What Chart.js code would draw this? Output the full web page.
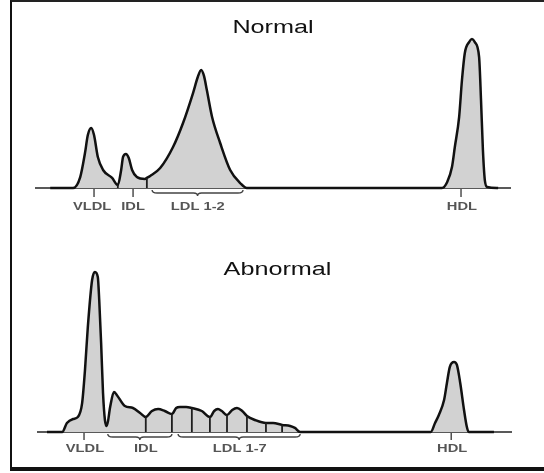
<!DOCTYPE html>
<html>
<head>
<meta charset="utf-8">
<script src="https://cdn.jsdelivr.net/npm/chart.js@4.4.1/dist/chart.umd.min.js"></script>
<style>
    body { margin: 0; background: #fff; }
    #frame {
        position: absolute; left: 10px; top: 0; width: 534px; height: 465px;
        border-top: 2px solid #222; border-left: 2px solid #111; border-bottom: 4px solid #111;
    }
    .panel { position: absolute; left: 0; }
</style>
</head>
<body>
<div id="frame"></div>
<canvas id="normalChart" class="panel" width="544" height="236" style="top:0"></canvas>
<canvas id="abnormalChart" class="panel" width="544" height="237" style="top:236px"></canvas>
<script>
// Relative mobility (0-100) and scan density
const normalPos = [3.2, 8.0, 9.5, 10.5, 11.1, 11.8, 12.4, 13.2, 14.3, 16.2,
    17.4, 18.1, 18.5, 19.1, 19.7, 20.4, 21.4, 23.1, 23.5, 24.2,
    26.3, 29.0, 31.1, 33.2, 34.2, 34.9, 35.5, 36.1, 37.2, 38.9,
    41.0, 43.1, 44.5, 85.5, 86.6, 87.6, 88.2, 89.1, 89.7, 90.3,
    91.2, 91.8, 92.4, 93.3, 93.7, 94.1, 94.5, 95.0, 97.3];
const normalDensity = [0, 0, 7.3, 23.3, 35.3, 40, 35.3, 20.7, 12, 6.7,
    2, 12, 20.7, 22.7, 20, 12, 7.3, 6, 6.7, 8,
    13.3, 27.3, 43.3, 63.3, 74, 78.7, 74.7, 65.3, 47.3, 30,
    12, 3.3, 0, 0, 4, 14, 27.3, 47.3, 72, 90,
    97.3, 99.3, 97.3, 87.3, 58.7, 25.3, 5.3, 0.7, 0];
const normalDividers = [17.4, 23.5];
const normalLabels = ['VLDL', 'IDL', 'LDL 1-2', 'HDL'];
const normalLabelPos = [12.0, 20.6, 34.2, 89.7];
const normalTicks = [12.4, 20.6, 89.5];
const normalBraces = [[24.6, 43.7]];

const abnormalPos = [2.1, 5.3, 6.3, 7.6, 8.6, 9.5, 10.1, 10.7, 11.6, 12.2,
    12.8, 13.1, 13.5, 13.9, 14.3, 14.7, 15.4, 16.2, 16.8, 18.5,
    20.2, 21.7, 22.9, 24.2, 25.5, 26.9, 28.4, 29.3, 30.1, 31.4,
    32.6, 34.7, 36.4, 37.3, 38.1, 38.9, 40.0, 41.1, 42.1, 43.2,
    44.2, 45.9, 48.2, 49.7, 51.6, 53.3, 54.3, 55.4, 59.6, 82.9,
    83.8, 84.6, 85.7, 86.3, 86.9, 87.8, 88.4, 89.1, 89.9, 90.5,
    90.9, 96.2];
const abnormalDensity = [0, 0, 6, 8.7, 10, 19.3, 41.3, 70, 101.3, 106.7,
    103.3, 88, 59.3, 26, 8, 4, 16.7, 26.7, 24.7, 17.3,
    16, 12.7, 10, 14, 15.3, 14, 12, 16, 16.7, 16.7,
    16, 14, 10, 14, 15.3, 14, 11.3, 14.7, 16, 14,
    10.7, 8, 6, 6, 4.7, 4, 2.7, 0, 0, 0,
    6, 11.3, 21.3, 32.7, 43.3, 46.7, 44.7, 32.7, 14.7, 3.3,
    0, 0];
const abnormalDividers = [22.9, 28.4, 32.6, 36.4, 40.0, 44.2, 48.2, 51.6];
const abnormalLabels = ['VLDL', 'IDL', 'LDL 1-7', 'HDL'];
const abnormalLabelPos = [10.1, 22.9, 42.7, 87.4];
const abnormalTicks = [9.9, 87.2];
const abnormalBraces = [[14.9, 28.4], [29.7, 55.4]];

// text in the source is drawn wide, so stretch it through a horizontal scale
function wideText(ctx, text, x, y, font, color) {
    ctx.save();
    ctx.translate(x, y);
    ctx.scale(1.4, 1);
    ctx.font = font;
    ctx.fillStyle = color;
    ctx.textAlign = 'center';
    ctx.textBaseline = 'middle';
    ctx.fillText(text, 0, 0);
    ctx.restore();
}

const scanMarks = {
    id: 'scanMarks',
    afterDatasetsDraw(chart, args, opts) {
        const { ctx, scales: { x, y } } = chart;
        const base = y.getPixelForValue(0);
        const meta = chart.getDatasetMeta(0);

        ctx.save();
        // fraction dividers under the curve
        ctx.strokeStyle = '#1e1e1e';
        ctx.lineWidth = 1.8;
        opts.dividers.forEach(d => {
            const pt = meta.data[opts.positions.indexOf(d)];
            ctx.beginPath();
            ctx.moveTo(pt.x, base);
            ctx.lineTo(pt.x, pt.y);
            ctx.stroke();
        });

        // short ticks below the baseline
        ctx.strokeStyle = '#333';
        ctx.lineWidth = 1.3;
        opts.ticks.forEach(t => {
            const px = x.getPixelForValue(t);
            ctx.beginPath();
            ctx.moveTo(px, base + 1);
            ctx.lineTo(px, base + opts.tickLen);
            ctx.stroke();
        });

        // curly braces
        ctx.strokeStyle = '#444';
        ctx.lineWidth = 1.4;
        opts.braces.forEach(([a, b]) => {
            const x1 = x.getPixelForValue(a);
            const x2 = x.getPixelForValue(b);
            const xc = (x1 + x2) / 2;
            const by = base + opts.braceGap;
            ctx.beginPath();
            ctx.moveTo(x1, by - 3);
            ctx.quadraticCurveTo(x1, by, x1 + 5, by);
            ctx.lineTo(xc - 4, by);
            ctx.quadraticCurveTo(xc, by, xc, by + 3);
            ctx.quadraticCurveTo(xc, by, xc + 4, by);
            ctx.lineTo(x2 - 5, by);
            ctx.quadraticCurveTo(x2, by, x2, by - 3);
            ctx.stroke();
        });
        ctx.restore();

        opts.labels.forEach((text, i) => {
            wideText(ctx, text, x.getPixelForValue(opts.labelPos[i]), base + opts.labelGap,
                'bold 10.5px "Liberation Sans", Arial, sans-serif', '#555');
        });

        wideText(ctx, opts.title, (x.left + x.right) / 2 + opts.titleShift, opts.titleY,
            '18px "Liberation Sans", Arial, sans-serif', '#111');
    }
};

function makePanel(canvasId, pos, density, marks, padding) {
    const points = pos.map((p, i) => ({ x: p, y: density[i] }));
    return new Chart(document.getElementById(canvasId), {
        type: 'line',
        data: {
            datasets: [{
                data: points,
                borderColor: '#111',
                borderWidth: 2.5,
                backgroundColor: '#d2d2d2',
                fill: 'origin',
                cubicInterpolationMode: 'monotone',
                pointRadius: 0,
                clip: false
            }, {
                data: [{ x: 0, y: 0 }, { x: 100, y: 0 }],
                borderColor: '#222',
                borderWidth: 1.5,
                fill: false,
                pointRadius: 0,
                clip: false
            }]
        },
        options: {
            responsive: false,
            animation: false,
            layout: { padding: padding },
            scales: {
                x: { type: 'linear', min: 0, max: 100, display: false },
                y: { min: 0, max: 110, display: false }
            },
            plugins: {
                legend: { display: false },
                tooltip: { enabled: false },
                scanMarks: Object.assign({ positions: pos }, marks)
            }
        },
        plugins: [scanMarks]
    });
}

document.addEventListener('DOMContentLoaded', () => {
    makePanel('normalChart', normalPos, normalDensity, {
        dividers: normalDividers, ticks: normalTicks, braces: normalBraces,
        labels: normalLabels, labelPos: normalLabelPos,
        title: 'Normal', titleY: 28, titleShift: 0,
        tickLen: 9, braceGap: 5, labelGap: 19
    }, { left: 35, right: 33, top: 23, bottom: 48 });

    makePanel('abnormalChart', abnormalPos, abnormalDensity, {
        dividers: abnormalDividers, ticks: abnormalTicks, braces: abnormalBraces,
        labels: abnormalLabels, labelPos: abnormalLabelPos,
        title: 'Abnormal', titleY: 34, titleShift: 3,
        tickLen: 8, braceGap: 5, labelGap: 17
    }, { left: 37, right: 32, top: 31, bottom: 41 });
});
</script>
</body>
</html>
